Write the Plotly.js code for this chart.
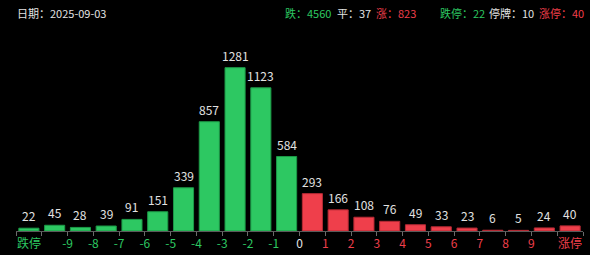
<!DOCTYPE html>
<html>
<head>
<meta charset="utf-8">
<script src="https://cdn.plot.ly/plotly-3.0.1.min.js"></script>
<style>
  html, body { margin: 0; padding: 0; background: #000; }
  #chart { width: 590px; height: 255px; }
</style>
</head>
<body>
<div id="chart"></div>
<script>
// Distribution of stock moves for the trading day
const tradeDate = '2025-09-03';
const bucketLabels = ['跌停', '-10~-9', '-9~-8', '-8~-7', '-7~-6', '-6~-5', '-5~-4', '-4~-3', '-3~-2', '-2~-1', '-1~0',
                      '0~1', '1~2', '2~3', '3~4', '4~5', '5~6', '6~7', '7~8', '8~9', '9~10', '涨停'];
const bucketCounts = [22, 45, 28, 39, 91, 151, 339, 857, 1281, 1123, 584,
                      293, 166, 108, 76, 49, 33, 23, 6, 5, 24, 40];
const flatCount = 37;
const suspendedCount = 10;

// Axis labels sit on bucket boundaries, except the limit buckets
const axisLabels = ['跌停', '-9', '-8', '-7', '-6', '-5', '-4', '-3', '-2', '-1', '0',
                    '1', '2', '3', '4', '5', '6', '7', '8', '9', '涨停'];

const GREEN = '#2dc862';
const GREEN_EDGE = '#1c9a47';
const RED = '#ef3f4b';
const RED_EDGE = '#b52a34';
const TEXT = '#e2e2e2';
const FONT = '"Noto Sans CJK SC", "Noto Sans", sans-serif';

const nDown = 11; // first 11 buckets are declines
const xs = bucketCounts.map((_, i) => i);
const colors = xs.map(i => i < nDown ? GREEN : RED);
const edges = xs.map(i => i < nDown ? GREEN_EDGE : RED_EDGE);

const downTotal = bucketCounts.slice(0, nDown).reduce((a, b) => a + b, 0);
const upTotal = bucketCounts.slice(nDown).reduce((a, b) => a + b, 0);
const limitDown = bucketCounts[0];
const limitUp = bucketCounts[bucketCounts.length - 1];

// Label positions: limit buckets at their centre, others at the lower boundary
const tickVals = axisLabels.map((t, k) => {
  if (k === 0) return 0;
  if (k === axisLabels.length - 1) return bucketCounts.length - 1;
  return k + 0.5;
});
const tickText = axisLabels.map((t, k) => {
  let c = k < 10 ? GREEN : (k === 10 ? '#e6e6e6' : RED);
  return '<span style="color:' + c + '">' + t + '</span>';
});

const trace = {
  type: 'bar',
  x: xs,
  y: bucketCounts,
  customdata: bucketLabels,
  width: 0.78,
  marker: { color: colors, line: { color: edges, width: 1 } },
  hoverinfo: 'skip'
};

const valueNotes = xs.map(i => ({
  x: i, y: bucketCounts[i], xref: 'x', yref: 'y',
  text: String(bucketCounts[i]),
  showarrow: false, yanchor: 'bottom', yshift: 2,
  font: { family: FONT, size: 12, color: TEXT }
}));

// Summary line in the header: [paper x, label, colour]
const summaryItems = [
  [0.4709, '跌：' + downTotal, GREEN],
  [0.5626, '平：' + flatCount, TEXT],
  [0.6314, '涨：' + upTotal, RED],
  [0.7443, '跌停：' + limitDown, GREEN],
  [0.8307, '停牌：' + suspendedCount, TEXT],
  [0.9189, '涨停：' + limitUp, RED]
];

const headerNotes = [
  {
    xref: 'paper', yref: 'paper', x: -0.002, y: 1.112, xanchor: 'left', yanchor: 'middle',
    text: '日期：' + tradeDate, showarrow: false,
    font: { family: FONT, size: 11, color: TEXT }
  }
].concat(summaryItems.map(([px, label, col]) => ({
  xref: 'paper', yref: 'paper', x: px, y: 1.112, xanchor: 'left', yanchor: 'middle',
  text: label, showarrow: false, font: { family: FONT, size: 11, color: col }
})));

const layout = {
  width: 590, height: 255,
  margin: { l: 16, r: 7, t: 35, b: 24 },
  paper_bgcolor: '#000', plot_bgcolor: '#000',
  showlegend: false,
  font: { family: FONT, size: 12, color: TEXT },
  xaxis: {
    range: [-0.5, bucketCounts.length - 0.5],
    tickmode: 'array', tickvals: tickVals, ticktext: tickText,
    ticks: 'outside', ticklen: 2, tickcolor: 'rgba(0,0,0,0)',
    showgrid: false, zeroline: false,
    showline: true, linecolor: '#5a5a5a', linewidth: 1,
    tickfont: { family: FONT, size: 12 },
    minor: { tick0: -0.5, dtick: 1, ticks: 'outside', ticklen: 4, tickcolor: '#6a6a6a', tickwidth: 1, showgrid: false },
    fixedrange: true
  },
  yaxis: {
    range: [0, 1537], visible: false, showgrid: false, zeroline: false, fixedrange: true
  },
  annotations: valueNotes.concat(headerNotes)
};

Plotly.newPlot('chart', [trace], layout, { displayModeBar: false, staticPlot: true });
</script>
</body>
</html>
